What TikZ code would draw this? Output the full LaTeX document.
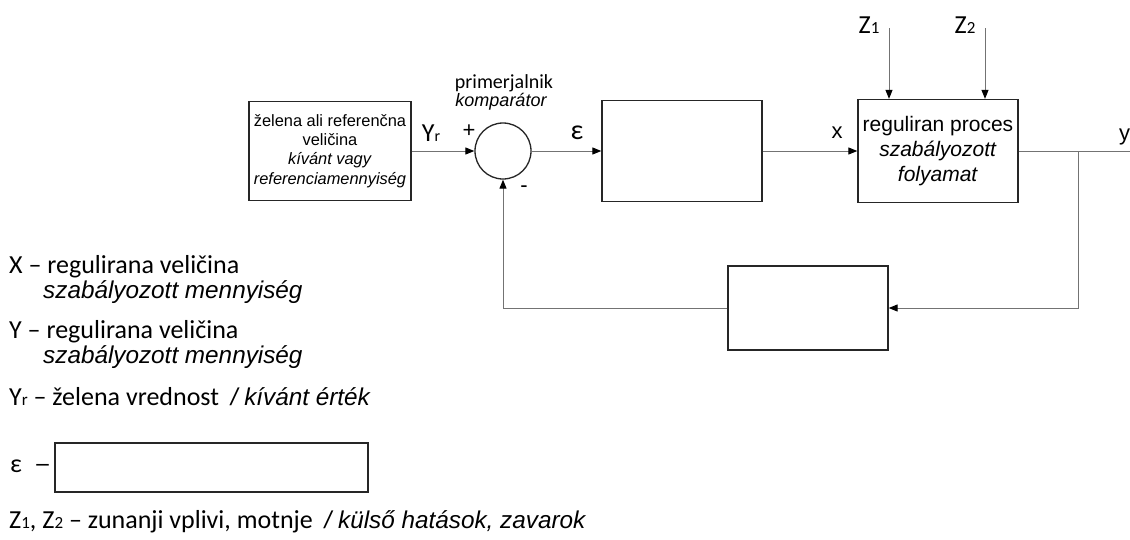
\documentclass[tikz,border=0pt]{standalone}
\usepackage{fontspec}
\setmainfont{Liberation Sans}
\newfontfamily\calib{Carlito}
\usetikzlibrary{arrows.meta}
\newcommand{\fs}[2]{\fontsize{#1}{#2}\selectfont}
\begin{document}
\begin{tikzpicture}[x=1pt,y=-1pt,
  blk/.style={draw=black!85, line width=1.3pt, inner sep=0pt},
  conn/.style={draw=black!55, line width=1pt},
  arr/.style={conn, -{Triangle[length=9pt,width=7pt,color=black]}},
  lab/.style={inner sep=0pt},
  leg/.style={inner sep=0pt, anchor=west, font=\calib\fs{26}{26}},
  legi/.style={inner sep=0pt, anchor=west, font=\itshape\fs{24.3}{24.3}}]
\useasboundingbox[fill=white] (0,0) rectangle (1130,539);
% blocks
\node[blk, minimum width=162pt, minimum height=99pt, align=center, font=\fs{16.4}{19.3}] (ref) at (330,151) {želena ali referenčna\\veličina\\\textit{kívánt vagy}\\\textit{referenciamennyiség}};
\node[draw=black!85, line width=1.3pt, circle, minimum size=56pt, inner sep=0pt] (cmp) at (503,151) {};
\node[blk, minimum width=160pt, minimum height=101pt] (ctrl) at (682,151) {};
\node[blk, minimum width=160pt, minimum height=103pt, align=center, font=\fs{21}{25}] (proc) at (938,151) {reguliran proces\\\textit{szabályozott}\\\textit{folyamat}};
\node[blk, minimum width=160pt, minimum height=84pt] (meas) at (808,308) {};
% labels
\node[lab, font=\calib\fs{26}{26}] (yr) at (431,133) {Y{\fs{16}{16}r}};
\node[lab, font=\fs{22}{22}] (plus) at (469,131) {+};
\node[lab, font=\fs{22}{22}] (minus) at (524,189) {-};
\node[lab, font=\calib\fs{20}{22}] (prim) at (504,83) {primerjalnik};
\node[lab, font=\itshape\fs{18}{20}] (komp) at (501,102) {komparátor};
\node[lab, font=\calib\fs{28}{28}] (eps) at (577,133) {ε};
\node[lab, font=\fs{22}{22}] (xl) at (837,133) {x};
\node[lab, font=\calib\fs{26}{26}] (z1) at (869,25) {Z{\fs{17}{17}1}};
\node[lab, font=\calib\fs{26}{26}] (z2) at (965,25) {Z{\fs{17}{17}2}};
\node[lab, font=\fs{22}{22}, anchor=west] (yl) at (1119,137) {y};
% connectors
\coordinate (br) at (1078,151);
\coordinate (yend) at (1130,151);
\coordinate (z1s) at (889,28);
\coordinate (z2s) at (985,28);
\draw[arr] (ref.east) -- (cmp.west);
\draw[arr] (cmp.east) -- (ctrl.west);
\draw[arr] (ctrl.east) -- (proc.west);
\draw[conn] (proc.east) -- (yend);
\draw[arr] (br) |- (meas.east);
\draw[arr] (meas.west) -| (cmp.south);
\draw[arr] (z1s) -- (z1s |- proc.north);
\draw[arr] (z2s) -- (z2s |- proc.north);
% legend
\node[leg] (lx) at (9,267) {X – regulirana veličina};
\node[legi] (lxi) at (43,292) {szabályozott mennyiség};
\node[leg] (ly) at (9,332) {Y – regulirana veličina};
\node[legi] (lyi) at (43,357) {szabályozott mennyiség};
\node[leg] (lyr) at (9,397) {Y{\fs{17}{17}r} – želena vrednost \ {\rmfamily\itshape\fs{24.3}{24.3}/ kívánt érték}};
\node[leg] (leps) at (10,466) {ε \ \scalebox{1.35}[1]{–}};
\node[blk, minimum width=313pt, minimum height=49pt] (ebox) at (211.5,467.5) {};
\node[leg] (lz) at (9,522) {Z{\fs{17}{17}1}, Z{\fs{17}{17}2} – zunanji vplivi, motnje \ {\rmfamily\itshape\fs{24.3}{24.3}/ külső hatások, zavarok}};
\end{tikzpicture}
\end{document}
